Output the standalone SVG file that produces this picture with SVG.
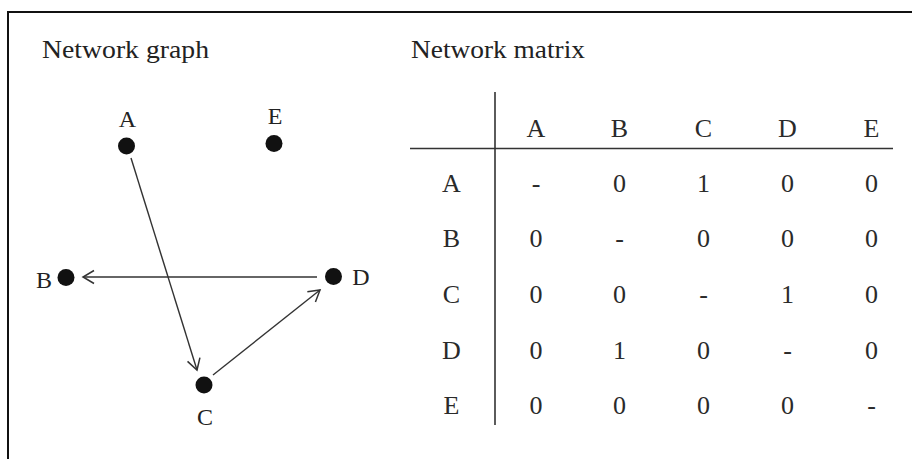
<svg xmlns="http://www.w3.org/2000/svg" width="912" height="459" viewBox="0 0 912 459">
<style>
text{font-family:"Liberation Serif","Times New Roman",serif;fill:#222}
.title{font-size:26px}
.lbl{font-size:24px;text-anchor:middle}
.m{font-size:26px;text-anchor:middle;fill:#2a2a2a}
.dot{fill:#111}
.edge{stroke:#333;stroke-width:1.4;fill:none}
.rule{stroke:#333;stroke-width:1.6}
</style>
<defs>
<marker id="arr" markerUnits="userSpaceOnUse" markerWidth="16" markerHeight="16" viewBox="-12 -8 14 16" refX="0" refY="0" orient="auto">
<path d="M-11,-6.5 L0,0 L-11,6.5" fill="none" stroke="#333" stroke-width="1.5"/>
</marker>
</defs>
<rect x="8" y="12" width="930" height="470" fill="#fff" stroke="#111" stroke-width="2"/>
<text class="title" x="42" y="58" textLength="167" lengthAdjust="spacingAndGlyphs">Network graph</text>
<text class="title" x="411" y="58" textLength="174" lengthAdjust="spacingAndGlyphs">Network matrix</text>
<g id="connectors">
<line class="edge" x1="131" y1="158" x2="197" y2="370" marker-end="url(#arr)"/>
<line class="edge" x1="317" y1="277" x2="83" y2="277" stroke-width="1.8" stroke="#444" marker-end="url(#arr)"/>
<line class="edge" x1="213" y1="375" x2="320" y2="290" marker-end="url(#arr)"/>
</g>
<g id="node-A"><circle class="dot" cx="126.5" cy="146" r="8.5"/><text class="lbl" x="127.5" y="127">A</text></g>
<g id="node-E"><circle class="dot" cx="274" cy="143.5" r="8.5"/><text class="lbl" x="275" y="124">E</text></g>
<g id="node-B"><circle class="dot" cx="66" cy="277.5" r="8.5"/><text class="lbl" x="44" y="288">B</text></g>
<g id="node-D"><circle class="dot" cx="333.5" cy="276.5" r="8.5"/><text class="lbl" x="361" y="285">D</text></g>
<g id="node-C"><circle class="dot" cx="204" cy="385" r="8.5"/><text class="lbl" x="205" y="425">C</text></g>
<g id="matrix">
<line class="rule" x1="495" y1="92" x2="495" y2="425"/>
<line class="rule" x1="410" y1="148.5" x2="893" y2="148.5"/>
<text class="m" x="536" y="137">A</text>
<text class="m" x="619.5" y="137">B</text>
<text class="m" x="703.5" y="137">C</text>
<text class="m" x="787.5" y="137">D</text>
<text class="m" x="871.5" y="137">E</text>
<text class="m" x="451.5" y="192">A</text>
<text class="m" x="536" y="192">-</text>
<text class="m" x="619.5" y="192">0</text>
<text class="m" x="703.5" y="192">1</text>
<text class="m" x="787.5" y="192">0</text>
<text class="m" x="871.5" y="192">0</text>
<text class="m" x="451.5" y="247">B</text>
<text class="m" x="536" y="247">0</text>
<text class="m" x="619.5" y="247">-</text>
<text class="m" x="703.5" y="247">0</text>
<text class="m" x="787.5" y="247">0</text>
<text class="m" x="871.5" y="247">0</text>
<text class="m" x="451.5" y="303">C</text>
<text class="m" x="536" y="303">0</text>
<text class="m" x="619.5" y="303">0</text>
<text class="m" x="703.5" y="303">-</text>
<text class="m" x="787.5" y="303">1</text>
<text class="m" x="871.5" y="303">0</text>
<text class="m" x="451.5" y="358.5">D</text>
<text class="m" x="536" y="358.5">0</text>
<text class="m" x="619.5" y="358.5">1</text>
<text class="m" x="703.5" y="358.5">0</text>
<text class="m" x="787.5" y="358.5">-</text>
<text class="m" x="871.5" y="358.5">0</text>
<text class="m" x="451.5" y="413.5">E</text>
<text class="m" x="536" y="413.5">0</text>
<text class="m" x="619.5" y="413.5">0</text>
<text class="m" x="703.5" y="413.5">0</text>
<text class="m" x="787.5" y="413.5">0</text>
<text class="m" x="871.5" y="413.5">-</text>
</g>
</svg>
